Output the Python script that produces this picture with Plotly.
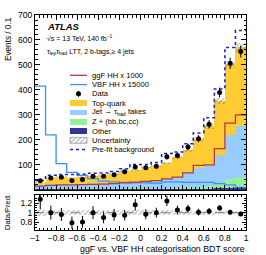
import numpy as np
import plotly.graph_objects as go

# ---------------- data ----------------
bin_edges = np.round(np.linspace(-1.0, 1.0, 21), 3)
data = [37, 48, 51, 38, 42, 55, 55, 61, 73, 92, 89, 95, 133, 138, 172, 205, 263, 390, 507, 554]
other = [2, 2, 2, 2, 2, 2, 2, 3, 3, 3, 3, 3, 3, 4, 4, 4, 5, 6, 9, 11]
zhf = [3, 4, 4, 4, 4, 4, 4, 4, 4, 5, 5, 5, 6, 6, 7, 8, 10, 18, 35, 40]
fakes = [13, 18, 19, 19, 19, 20, 21, 21, 22, 22, 25, 27, 39, 42, 59, 75, 85, 116, 174, 206]
top = [11, 24, 28, 23, 27, 29, 34, 36, 48, 49, 59, 60, 59, 79, 89, 116, 155, 215, 284, 314]
ggf = [15, 18, 20, 20, 21, 22, 23, 25, 28, 31, 34, 37, 44, 51, 68, 98, 100, 165, 267, 300]
vbf = [415, 220, 105, 70, 58, 45, 35, 32, 30, 28, 28, 27, 32, 32, 30, 30, 30, 25, 20, 10]
prefit = [38, 59, 62, 62, 63, 67, 68, 74, 85, 102, 102, 110, 146, 152, 185, 228, 289, 404, 570, 638]
rel_unc = [0.06, 0.045, 0.045, 0.045, 0.045, 0.045, 0.045, 0.045, 0.045, 0.045,
           0.045, 0.045, 0.045, 0.045, 0.04, 0.04, 0.04, 0.035, 0.03, 0.03]

y_ticks_main = [100, 200, 300, 400, 500, 600, 700]
x_ticks = [-1, -0.8, -0.6, -0.4, -0.2, 0, 0.2, 0.4, 0.6, 0.8, 1]
x_ticklabels = ["\u22121", "\u22120.8", "\u22120.6", "\u22120.4", "\u22120.2", "0", "0.2", "0.4", "0.6", "0.8", "1"]
ratio_ticks = [0.8, 1, 1.2]
ratio_ticklabels = ["0.8", "1", "1.2"]

# colours
C_TOP = "#FFCC33"
C_FAKE = "#99CCFF"
C_Z = "#99EE99"
C_OTHER = "#333399"
C_GGF = "#b23b3b"
C_VBF = "#3f8ef0"
C_PRE = "#1f1fd0"

FONT = "Liberation Sans, Arial, Helvetica, sans-serif"

centers = (bin_edges[:-1] + bin_edges[1:]) / 2
width = bin_edges[1] - bin_edges[0]
data = np.array(data, float)
comps = [("Other", other, C_OTHER), ("Z + (bb,bc,cc)", zhf, C_Z),
         ("Jet fakes", fakes, C_FAKE), ("Top-quark", top, C_TOP)]
total = np.sum([np.array(c[1], float) for c in comps], axis=0)
unc = total * np.array(rel_unc)

fig = go.Figure()

# stacked background
base = np.zeros(20)
for name, vals, col in comps:
    v = np.array(vals, float)
    fig.add_trace(go.Bar(x=centers, y=v, base=base, width=width, marker=dict(color=col, line=dict(width=0)),
                         xaxis="x", yaxis="y", showlegend=False, hoverinfo="skip"))
    base = base + v

def step(vals):
    return list(bin_edges), list(vals) + [vals[-1]]

# signal lines
for vals, col in [(vbf, C_VBF), (ggf, C_GGF)]:
    xs, ys = step(vals)
    fig.add_trace(go.Scatter(x=xs, y=ys, mode="lines", line=dict(color=col, width=1.3, shape="hv"),
                             xaxis="x", yaxis="y", showlegend=False, hoverinfo="skip"))

# uncertainty hatch
hatch = dict(color="rgba(0,0,0,0)", line=dict(width=0),
             pattern=dict(shape="/", fgcolor="#555555", bgcolor="rgba(0,0,0,0)", size=3.5, solidity=0.3))
fig.add_trace(go.Bar(x=centers, y=2 * unc, base=total - unc, width=width, marker=hatch,
                     xaxis="x", yaxis="y", showlegend=False, hoverinfo="skip"))

# pre-fit
xs, ys = step(prefit)
fig.add_trace(go.Scatter(x=xs, y=ys, mode="lines", line=dict(color=C_PRE, width=1.6, dash="dot", shape="hv"),
                         xaxis="x", yaxis="y", showlegend=False, hoverinfo="skip"))

# data
fig.add_trace(go.Scatter(x=centers, y=data, mode="markers", marker=dict(color="black", size=5),
                         error_y=dict(type="data", array=np.sqrt(data), color="black", thickness=1, width=0),
                         xaxis="x", yaxis="y", showlegend=False, hoverinfo="skip"))

# ratio panel
ratio = data / total
ratio_err = np.sqrt(data) / total
fig.add_trace(go.Bar(x=centers, y=2 * np.array(rel_unc), base=1 - np.array(rel_unc), width=width, marker=hatch,
                     xaxis="x2", yaxis="y2", showlegend=False, hoverinfo="skip"))
fig.add_trace(go.Scatter(x=centers, y=ratio, mode="markers", marker=dict(color="black", size=5),
                         error_y=dict(type="data", array=ratio_err, color="black", thickness=1, width=0),
                         cliponaxis=True, xaxis="x2", yaxis="y2", showlegend=False, hoverinfo="skip"))

# ---------------- layout geometry (pixels) ----------------
W, H = 266, 255
ML, MR, MT, MB = 35, 20, 10, 25
PW, PH = W - ML - MR, H - MT - MB
def px(x):
    return (x - ML) / PW
def py(y):
    return (H - MB - y) / PH

main_bottom, ratio_top = 189, 194

axis_common = dict(showline=True, linecolor="black", linewidth=1, mirror="allticks", ticks="inside",
                   tickcolor="black", tickwidth=1, showgrid=False, zeroline=False,
                   tickfont=dict(family=FONT, size=8.5, color="black"))

fig.update_layout(
    width=W, height=H, margin=dict(l=ML, r=MR, t=MT, b=MB),
    paper_bgcolor="white", plot_bgcolor="rgba(0,0,0,0)", barmode="overlay", bargap=0,
    showlegend=False,
    xaxis=dict(domain=[0, 1], range=[-1, 1], anchor="y", tickvals=x_ticks, showticklabels=False, ticklen=5,
               minor=dict(dtick=0.04, ticklen=2.5, ticks="inside", tickcolor="black"), **axis_common),
    yaxis=dict(domain=[py(main_bottom), 1], range=[0, 700], anchor="x", tickvals=y_ticks_main, ticklen=5,
               minor=dict(dtick=20, ticklen=2.5, ticks="inside", tickcolor="black"), **axis_common),
    xaxis2=dict(domain=[0, 1], range=[-1, 1], anchor="y2", tickvals=x_ticks, ticktext=x_ticklabels, ticklen=4,
                minor=dict(dtick=0.04, ticklen=2, ticks="inside", tickcolor="black"), **axis_common),
    yaxis2=dict(domain=[0, py(ratio_top)], range=[0.64, 1.37], anchor="x2", tickvals=ratio_ticks,
                ticktext=ratio_ticklabels, ticklen=4,
                minor=dict(dtick=0.05, ticklen=2, ticks="inside", tickcolor="black"), **axis_common),
    xaxis3=dict(domain=[0, 1], range=[ML, W - MR], anchor="y3", visible=False, fixedrange=True),
    yaxis3=dict(domain=[0, 1], range=[H - MB, MT], anchor="x3", visible=False, fixedrange=True),
)

fig.add_shape(type="line", xref="x2 domain", yref="y2", x0=0, x1=1, y0=1, y1=1,
              line=dict(color="#888888", width=1, dash="dash"), layer="below")

# ---------------- legend (drawn in pixel space on x3/y3) ----------------
leg_entries = [
    ("ggF HH x 1000", "line", C_GGF),
    ("VBF HH x 15000", "line", C_VBF),
    ("Data", "data", "black"),
    ("Top-quark", "box", C_TOP),
    ("Jet \u2192 \u03c4<sub>had</sub> fakes", "box", C_FAKE),
    ("Z + (bb,bc,cc)", "box", C_Z),
    ("Other", "box", C_OTHER),
    ("Uncertainty", "hatch", None),
    ("Pre-fit background", "dot", C_PRE),
]
leg_x0, leg_x1, leg_text_x = 70, 87, 90
leg_y0, leg_dy = 71.7, 9.5
annotations = []
for i, (label, kind, col) in enumerate(leg_entries):
    yc = leg_y0 + i * leg_dy
    xm = (leg_x0 + leg_x1) / 2
    if kind in ("line", "dot"):
        fig.add_trace(go.Scatter(x=[leg_x0, leg_x1], y=[yc, yc], mode="lines",
                                 line=dict(color=col, width=1.3 if kind == "line" else 1.6,
                                           dash="solid" if kind == "line" else "dot"),
                                 xaxis="x3", yaxis="y3", showlegend=False, hoverinfo="skip"))
    elif kind == "data":
        fig.add_trace(go.Scatter(x=[xm], y=[yc], mode="markers", marker=dict(color="black", size=5),
                                 error_y=dict(type="constant", value=3, color="black", thickness=1, width=0),
                                 xaxis="x3", yaxis="y3", showlegend=False, hoverinfo="skip"))
    elif kind == "box":
        fig.add_trace(go.Bar(x=[xm], y=[6], base=[yc - 3], width=leg_x1 - leg_x0,
                             marker=dict(color=col, line=dict(width=0)),
                             xaxis="x3", yaxis="y3", showlegend=False, hoverinfo="skip"))
    elif kind == "hatch":
        fig.add_trace(go.Bar(x=[xm], y=[6], base=[yc - 3], width=leg_x1 - leg_x0,
                             marker=dict(color="rgba(0,0,0,0)", line=dict(width=0.6, color="#777777"),
                                         pattern=dict(shape="/", fgcolor="#555555", bgcolor="rgba(0,0,0,0)",
                                                      size=3.5, solidity=0.3)),
                             xaxis="x3", yaxis="y3", showlegend=False, hoverinfo="skip"))
    annotations.append(dict(x=px(leg_text_x), y=py(yc), xref="paper", yref="paper", text=label,
                            showarrow=False, xanchor="left", yanchor="middle",
                            font=dict(family=FONT, size=7.6, color="black")))

# ---------------- texts ----------------
annotations += [
    dict(x=px(45), y=py(21.7), text="<b><i>ATLAS</i></b>", font=dict(family=FONT, size=9.5, color="black")),
    dict(x=px(45), y=py(34), text="\u221as = 13 TeV, 140 fb<sup>\u22121</sup>", font=dict(family=FONT, size=7, color="black")),
    dict(x=px(45), y=py(47.5), text="\u03c4<sub>lep</sub>\u03c4<sub>had</sub> LTT, 2 b-tags,\u2265 4 jets",
         font=dict(family=FONT, size=7, color="black")),
]
for a in annotations[-3:]:
    a.update(xref="paper", yref="paper", showarrow=False, xanchor="left", yanchor="middle")

annotations += [
    dict(x=px(247), y=py(249), xref="paper", yref="paper", text="ggF vs. VBF HH categorisation BDT score",
         showarrow=False, xanchor="right", yanchor="middle", font=dict(family=FONT, size=8.8, color="black")),
    dict(x=px(8), y=py(10), xref="paper", yref="paper", text="Events / 0.1", textangle=-90,
         showarrow=False, xanchor="center", yanchor="top", font=dict(family=FONT, size=8.2, color="black")),
    dict(x=px(8), y=py(211.5), xref="paper", yref="paper", text="Data/Pred.", textangle=-90,
         showarrow=False, xanchor="center", yanchor="middle", font=dict(family=FONT, size=7.5, color="black")),
]
fig.update_layout(annotations=annotations)

fig.write_html("out.html", config={"displayModeBar": False, "staticPlot": True},
               post_script="document.body.style.margin='0';document.body.style.padding='0';")
